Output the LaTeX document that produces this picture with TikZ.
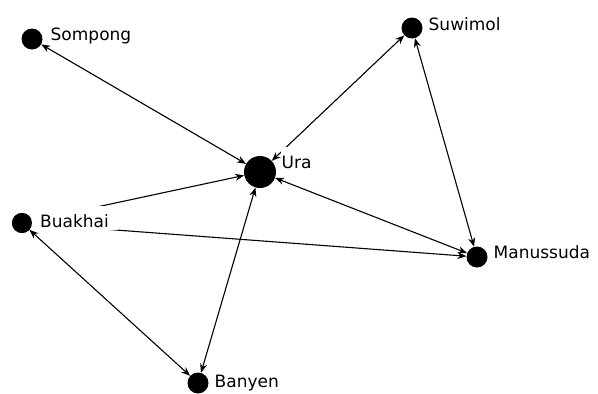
\documentclass[tikz,border=0pt]{standalone}
\usepackage{fontspec}
\setmainfont{DejaVu Sans}
\usetikzlibrary{arrows.meta}
\begin{document}
\begin{tikzpicture}[x=1pt,y=-1pt,
  actor/.style={circle,fill=black,inner sep=0pt,minimum size=#1},
  lbl/.style={anchor=base west,fill=white,inner sep=0.5pt,text height=21pt,text depth=2pt,font=\fontsize{17}{20}\selectfont},
  tipA/.tip={Stealth[length=9pt,width=7pt]},
  both/.style={line width=1.1pt,tipA-tipA},
  one/.style={line width=1.1pt,-tipA}]
\useasboundingbox (0,0) rectangle (598,394);
% actors
\node[actor=21pt] (sompong) at (32,39) {};
\node[actor=21pt] (suwimol) at (412,28) {};
\node[actor=32pt] (ura) at (260,172) {};
\node[actor=20pt] (buakhai) at (22,223) {};
\node[actor=21pt] (manussuda) at (477,257) {};
\node[actor=21pt] (banyen) at (198,383) {};
% ties
\draw[both] (sompong) -- (ura);
\draw[both] (ura) -- (suwimol);
\draw[both] (suwimol) -- (manussuda);
\draw[both] (ura) -- (manussuda);
\draw[one] (buakhai) -- (ura);
\draw[one] (buakhai) -- (manussuda);
\draw[both] (buakhai) -- (banyen);
\draw[both] (ura) -- (banyen);
% labels
\node[lbl] (lsompong) at (50,40) {Sompong};
\node[lbl] (lsuwimol) at (428,30) {Suwimol};
\node[lbl] (lura) at (281,168) {Ura};
\node[lbl,inner xsep=9pt] (lbuakhai) at (31,227) {Buakhai};
\node[lbl] (lmanussuda) at (493,258) {Manussuda};
\node[lbl] (lbanyen) at (214,387) {Banyen};
% Buakhai actor redrawn above its label box
\node[actor=20pt] (buakhaitop) at (buakhai) {};
\end{tikzpicture}
\end{document}
